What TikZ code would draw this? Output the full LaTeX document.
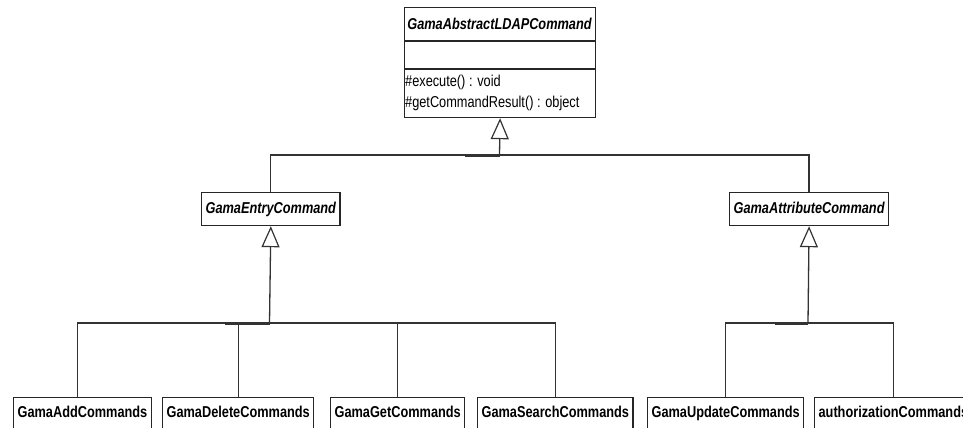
\documentclass[tikz,border=0pt]{standalone}
\usepackage{fontspec}
\setmainfont{Liberation Sans}[FakeStretch=0.81]
\usetikzlibrary{arrows.meta}

\newcommand\umlsize{\fontsize{15.75}{21}\selectfont}

\tikzset{
  conn/.style={draw=black!80, line width=1.3pt},
  inh/.style={conn, -{Triangle[open, width=18pt, length=21pt, line width=1.2pt]}},
  boxline/.style={draw=black!85, line width=1.2pt},
  classbox/.style={boxline, fill=white, inner ysep=0pt, inner xsep=4pt,
    font=\umlsize\bfseries, anchor=north west},
  abstractbox/.style={classbox, font=\umlsize\bfseries\itshape,
    minimum height=33pt, text height=11.5pt, text depth=3.5pt},
  leafbox/.style={classbox, text height=20pt, text depth=16pt},
  member/.style={font=\umlsize, inner sep=0pt, anchor=west},
}

\begin{document}
\begin{tikzpicture}[x=1pt, y=-1pt]
  \useasboundingbox (0,0) rectangle (963,428);
  \fill[white] (0,0) rectangle (963,428);
  \clip (0,0) rectangle (963,428);

  % abstract root class with its three compartments
  \node[boxline, minimum width=191pt, minimum height=110pt, inner sep=0pt,
        anchor=north west] (abs) at (404,7) {};
  \node[font=\umlsize\bfseries\itshape, inner sep=0pt] (absname) at (499.5,24)
        {GamaAbstractLDAPCommand};
  \draw[boxline] (404,41) -- (595,41);
  \draw[boxline] (404,69) -- (595,69);
  \node[member] (m1) at (405,82) {\#execute() : void};
  \node[member] (m2) at (405,103) {\#getCommandResult() : object};

  % abstract subclasses
  \node[abstractbox, minimum width=137pt] (entry) at (201,192) {GamaEntryCommand};
  \node[abstractbox, minimum width=158pt] (attr) at (729,192) {GamaAttributeCommand};

  % concrete command classes
  \node[leafbox, minimum width=136pt] (add)    at (13,397)  {GamaAddCommands};
  \node[leafbox, minimum width=149pt] (del)    at (162,397) {GamaDeleteCommands};
  \node[leafbox, minimum width=133pt] (get)    at (330,397) {GamaGetCommands};
  \node[leafbox, minimum width=155pt] (search) at (477,397) {GamaSearchCommands};
  \node[leafbox, minimum width=154pt] (upd)    at (647,397) {GamaUpdateCommands};
  \node[leafbox] (auth) at (814,397) {authorizationCommands};

  % junctions of the generalization trees
  \coordinate (j0) at (499.5,155);
  \coordinate (j1) at (269.5,323);
  \coordinate (j2) at (808,323);

  % generalization to the root
  \draw[conn] (entry.north) |- (j0) -| (attr.north);
  \draw[conn, line width=2.2pt] ([yshift=-0.6pt]j0) -- ++(-35,0);
  \draw[inh] (j0) -- (abs.south);

  % generalization to GamaEntryCommand
  \draw[conn] ([xshift=-5pt]add.north) |- (j1) -| (search.north);
  \draw[conn] (del.north) -- (del.north |- j1);
  \draw[conn] (get.north) -- (get.north |- j1);
  \draw[conn, line width=2.2pt] ([yshift=-0.6pt]j1) -- ++(-45,0);
  \draw[inh] (j1) -- (entry.south);

  % generalization to GamaAttributeCommand
  \draw[conn] (upd.north) |- (j2) -| (auth.north);
  \draw[conn, line width=2.2pt] ([yshift=-0.6pt]j2) -- ++(-33,0);
  \draw[inh] (j2) -- (attr.south);
\end{tikzpicture}
\end{document}
